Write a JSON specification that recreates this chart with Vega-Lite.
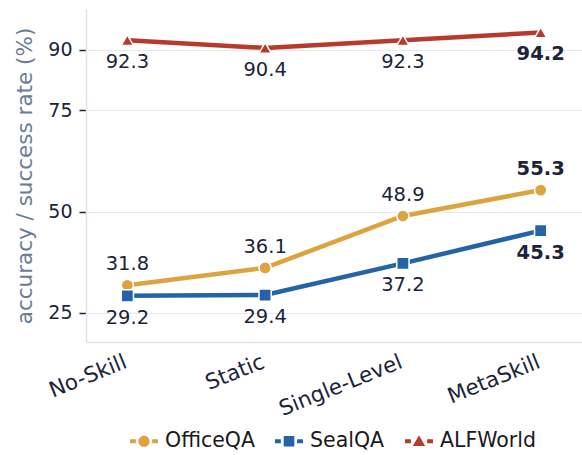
{
  "$schema": "https://vega.github.io/schema/vega-lite/v6.json",
  "width": 496,
  "height": 333,
  "autosize": {"type": "none"},
  "padding": {"left": 86, "top": 9, "right": 0, "bottom": 113},
  "background": "white",
  "config": {
    "font": "DejaVu Sans",
    "view": {"stroke": null},
    "axis": {"domainColor": "#dde3ea", "gridColor": "#e6eaf0", "domainWidth": 1.5}
  },
  "data": {
    "values": [
      {"method": "No-Skill", "series": "OfficeQA", "value": 31.8},
      {"method": "Static", "series": "OfficeQA", "value": 36.1},
      {"method": "Single-Level", "series": "OfficeQA", "value": 48.9},
      {"method": "MetaSkill", "series": "OfficeQA", "value": 55.3},
      {"method": "No-Skill", "series": "SealQA", "value": 29.2},
      {"method": "Static", "series": "SealQA", "value": 29.4},
      {"method": "Single-Level", "series": "SealQA", "value": 37.2},
      {"method": "MetaSkill", "series": "SealQA", "value": 45.3},
      {"method": "No-Skill", "series": "ALFWorld", "value": 92.3},
      {"method": "Static", "series": "ALFWorld", "value": 90.4},
      {"method": "Single-Level", "series": "ALFWorld", "value": 92.3},
      {"method": "MetaSkill", "series": "ALFWorld", "value": 94.2}
    ]
  },
  "encoding": {
    "x": {
      "field": "method", "type": "ordinal", "sort": null,
      "scale": {"type": "point", "padding": 0.3},
      "axis": {"title": null, "labelAngle": -22, "labelFontSize": 21.5, "labelColor": "#1c2438", "ticks": false, "grid": false, "labelPadding": 9, "labelOffset": -6, "labelAlign": "right", "labelBaseline": "top"}
    },
    "y": {
      "field": "value", "type": "quantitative",
      "scale": {"domain": [17.8, 100], "nice": false, "zero": false},
      "axis": {"values": [25, 50, 75, 90], "title": "accuracy / success rate (%)", "titleFontSize": 21.5, "titleFontWeight": "normal", "titleColor": "#6b7d96", "titlePadding": 11, "labelFontSize": 19, "labelColor": "#1c2438", "tickColor": "#1c2438", "tickSize": 7, "tickWidth": 1.5, "labelPadding": 7}
    }
  },
  "layer": [
    {
      "mark": {"type": "line", "strokeWidth": 4.5},
      "encoding": {
        "color": {"field": "series", "type": "nominal", "scale": {"domain": ["ALFWorld", "OfficeQA", "SealQA"], "range": ["#b83a2b", "#dca33f", "#2563a8"]}, "legend": null}
      }
    },
    {
      "mark": {"type": "point", "filled": true, "size": 150, "stroke": "white", "strokeWidth": 1.5, "opacity": 1},
      "encoding": {
        "color": {"field": "series", "type": "nominal", "legend": null},
        "shape": {"condition": [{"test": "datum.series === 'OfficeQA'", "value": "circle"}, {"test": "datum.series === 'SealQA'", "value": "square"}], "value": "triangle-up"}
      }
    },
    {
      "transform": [{"filter": "datum.series === 'OfficeQA' && datum.method !== 'MetaSkill'"}],
      "mark": {"type": "text", "fontSize": 19.5, "baseline": "middle", "align": "center", "dy": -21, "color": "#1c2438"},
      "encoding": {"text": {"field": "value", "type": "quantitative", "format": ".1f"}}
    },
    {
      "transform": [{"filter": "datum.series === 'OfficeQA' && datum.method === 'MetaSkill'"}],
      "mark": {"type": "text", "fontSize": 19.5, "fontWeight": "bold", "baseline": "middle", "align": "center", "dy": -21, "color": "#1c2438"},
      "encoding": {"text": {"field": "value", "type": "quantitative", "format": ".1f"}}
    },
    {
      "transform": [{"filter": "datum.series !== 'OfficeQA' && datum.method !== 'MetaSkill'"}],
      "mark": {"type": "text", "fontSize": 19.5, "baseline": "middle", "align": "center", "dy": 22, "color": "#1c2438"},
      "encoding": {"text": {"field": "value", "type": "quantitative", "format": ".1f"}}
    },
    {
      "transform": [{"filter": "datum.series !== 'OfficeQA' && datum.method === 'MetaSkill'"}],
      "mark": {"type": "text", "fontSize": 19.5, "fontWeight": "bold", "baseline": "middle", "align": "center", "dy": 22, "color": "#1c2438"},
      "encoding": {"text": {"field": "value", "type": "quantitative", "format": ".1f"}}
    },
    {
      "mark": {"type": "point", "filled": true, "opacity": 0},
      "encoding": {
        "fill": {
          "field": "series", "type": "nominal",
          "scale": {"domain": ["OfficeQA", "SealQA", "ALFWorld"], "range": ["#dca33f", "#2563a8", "#b83a2b"]},
          "legend": {"orient": "none", "legendX": 44, "legendY": 418, "direction": "horizontal", "title": null, "symbolSize": 784, "symbolOpacity": 1, "symbolStrokeWidth": 0, "labelFontSize": 20.5, "labelColor": "#1a1a1a", "columnPadding": 20, "labelOffset": 7, "padding": 0}
        },
        "shape": {
          "field": "series", "type": "nominal",
          "scale": {"domain": ["OfficeQA", "SealQA", "ALFWorld"], "range": [
            "M-1,-0.14H-0.58V0.14H-1Z M0.58,-0.14H1V0.14H0.58Z M0.4,0A0.4,0.4,0,1,1,-0.4,0A0.4,0.4,0,1,1,0.4,0Z",
            "M-1,-0.14H-0.58V0.14H-1Z M0.58,-0.14H1V0.14H0.58Z M-0.38,-0.38H0.38V0.38H-0.38Z",
            "M-1,-0.14H-0.58V0.14H-1Z M0.58,-0.14H1V0.14H0.58Z M0,-0.42L0.44,0.34H-0.44Z"
          ]},
          "legend": {"orient": "none", "legendX": 44, "legendY": 418, "direction": "horizontal", "title": null, "symbolSize": 784, "symbolOpacity": 1, "symbolStrokeWidth": 0, "labelFontSize": 20.5, "labelColor": "#1a1a1a", "columnPadding": 20, "labelOffset": 7, "padding": 0}
        }
      }
    }
  ]
}
